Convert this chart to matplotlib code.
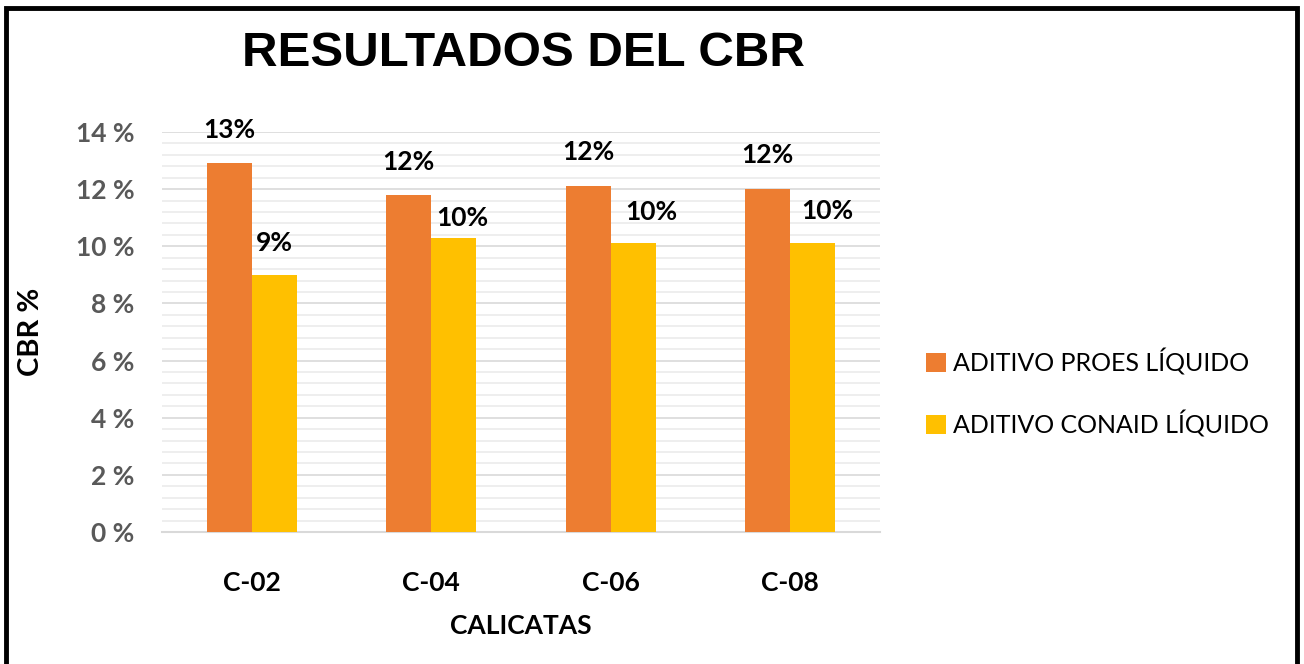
import matplotlib
matplotlib.use("Agg")
import matplotlib.pyplot as plt
from matplotlib.ticker import MultipleLocator, FuncFormatter
from matplotlib.patches import Rectangle
import numpy as np

# data
calicatas = ['C-02', 'C-04', 'C-06', 'C-08']
proes = [12.9, 11.8, 12.1, 12.0]
conaid = [9.0, 10.3, 10.1, 10.1]
series_names = ['ADITIVO PROES LÍQUIDO', 'ADITIVO CONAID LÍQUIDO']

# label nudges (pixels) so the labels sit like in the original
proes_nudge = [(0, 33), (0, 33), (0, 34), (0, 34)]
conaid_nudge = [(0, 32), (9, 20), (18, 31), (15, 32)]

orange = '#ED7D31'
yellow = '#FFC000'

plt.rcParams['font.family'] = ['Lato', 'DejaVu Sans']

fig = plt.figure(figsize=(13.04, 6.64), dpi=100)
ax = fig.add_axes([162 / 1304, 132 / 664, 718 / 1304, 400 / 664])

x = np.arange(len(calicatas))
w = 0.25
b1 = ax.bar(x - w / 2, proes, w, color=orange, label=series_names[0], zorder=3)
b2 = ax.bar(x + w / 2, conaid, w, color=yellow, label=series_names[1], zorder=3)

# data labels, rounded like the original
px = 72 / 100
for bars, nudges in ((b1, proes_nudge), (b2, conaid_nudge)):
    for rect, (dx, dy) in zip(bars, nudges):
        v = rect.get_height()
        ax.annotate(f'{v:.0f}%', (rect.get_x() + rect.get_width() / 2, v),
                    xytext=(dx * px, dy * px), textcoords='offset points',
                    ha='center', va='center', fontsize=19, fontweight='bold',
                    color='black')

ax.set_xlim(-0.5, 3.5)
ax.set_ylim(0, 14)
ax.yaxis.set_major_locator(MultipleLocator(2))
ax.yaxis.set_minor_locator(MultipleLocator(0.4))
ax.yaxis.set_major_formatter(FuncFormatter(lambda v, p: f'{v:.0f} %'))
ax.grid(axis='y', which='major', color='#D9D9D9', linewidth=1.2, zorder=0)
ax.grid(axis='y', which='minor', color='#EBEBEB', linewidth=1.2, zorder=0)
ax.set_axisbelow(True)

for s in ['top', 'right', 'left']:
    ax.spines[s].set_visible(False)
ax.spines['bottom'].set_color('#D9D9D9')
ax.spines['bottom'].set_linewidth(1.5)

ax.tick_params(axis='both', which='both', length=0)
ax.tick_params(axis='y', pad=20, labelsize=19, labelcolor='#595959')
ax.tick_params(axis='x', pad=28, labelsize=19)
ax.set_xticks(x)
ax.set_xticklabels(calicatas, fontweight='bold')
for t in ax.get_yticklabels():
    t.set_fontweight('bold')

ax.set_xlabel('CALICATAS', fontsize=19, fontweight='bold', labelpad=14)
ax.set_ylabel('CBR %', fontsize=21, fontweight='bold')
ax.yaxis.set_label_coords((44 - 162) / 718, 0.5)

fig.text(523 / 1304, 1 - 54 / 664, 'RESULTADOS DEL CBR', ha='center', va='center',
         fontsize=35.5, fontweight='bold', family=['Liberation Sans', 'DejaVu Sans'])

fig.legend(handles=[b1, b2], labels=series_names, loc='center left',
           bbox_to_anchor=(903 / 1304, 1 - 393 / 664), frameon=False,
           fontsize=18, handlelength=0.8, handleheight=0.8, handletextpad=0.3,
           labelspacing=1.4)

# black frame around the picture (bottom edge falls outside)
fig.patches.append(Rectangle((6 / 1304, -0.05), 1291 / 1304, 1.05 - 8 / 664,
                             transform=fig.transFigure, fill=False,
                             edgecolor='black', linewidth=3.5))

fig.savefig('out.png', dpi=100)
